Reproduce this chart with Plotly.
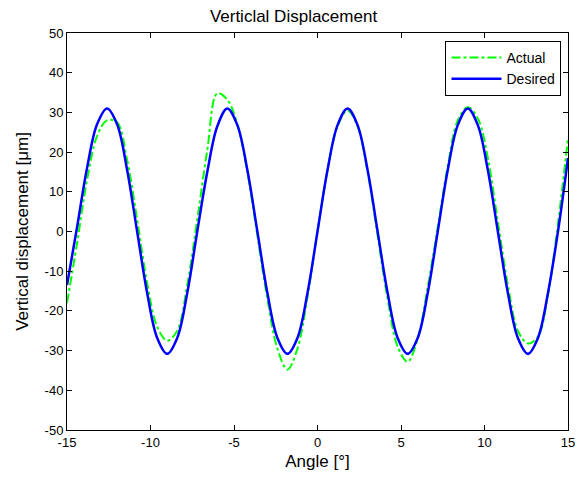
import plotly.graph_objects as go

angle = [-15.0, -14.4, -13.8, -13.2, -12.6, -12.0, -11.4, -10.8, -10.2, -9.6,
         -9.0, -8.4, -7.8, -7.2, -6.6, -6.0, -5.4, -4.8, -4.2, -3.6,
         -3.0, -2.4, -1.8, -1.2, -0.6, 0.0, 0.6, 1.2, 1.8, 2.4,
         3.0, 3.6, 4.2, 4.8, 5.4, 6.0, 6.6, 7.2, 7.8, 8.4,
         9.0, 9.6, 10.2, 10.8, 11.4, 12.0, 12.6, 13.2, 13.8, 14.4, 15.0]

desired = [-13.5, 1.0, 16.0, 27.0, 31.0, 27.0, 15.5, 0.0, -15.5, -26.8,
           -30.8, -26.8, -15.5, 0.0, 15.0, 26.5, 31.0, 26.8, 15.5, 0.0,
           -15.5, -26.8, -30.8, -26.8, -15.5, 0.0, 15.5, 26.8, 31.0, 26.8,
           15.5, 0.0, -15.5, -26.8, -30.8, -26.8, -15.5, 0.0, 15.5, 26.8,
           31.0, 26.8, 15.5, 0.0, -15.5, -26.8, -30.8, -26.8, -15.5, 0.0, 18.5]

actual = [-18.0, -3.0, 13.0, 24.0, 28.0, 27.5, 18.0, 3.0, -13.0, -24.0,
          -27.5, -25.0, -13.5, 3.0, 20.5, 34.8, 33.2, 27.0, 15.0, -1.0,
          -17.0, -29.5, -34.8, -29.5, -16.5, 0.0, 15.5, 26.5, 30.5, 26.5,
          15.0, -1.0, -17.0, -29.0, -32.8, -27.0, -14.0, 1.0, 16.5, 28.0,
          31.3, 28.5, 18.5, 2.5, -13.5, -25.0, -28.2, -26.5, -16.0, 2.0, 23.5]

x_ticks = [-15, -10, -5, 0, 5, 10, 15]
x_labels = ["-15", "-10", "-5", "0", "5", "10", "15"]
y_ticks = [-50, -40, -30, -20, -10, 0, 10, 20, 30, 40, 50]
y_labels = ["-50", "-40", "-30", "-20", "-10", "0", "10", "20", "30", "40", "50"]

font_family = "Liberation Sans, Arial, sans-serif"

fig = go.Figure()
fig.add_trace(go.Scatter(x=angle, y=actual, mode="lines", name="Actual",
                         line=dict(color="#00ff00", width=2, dash="dashdot", shape="spline")))
fig.add_trace(go.Scatter(x=angle, y=desired, mode="lines", name="Desired",
                         line=dict(color="#0000ff", width=2.5, shape="spline")))

axis_common = dict(showgrid=False, zeroline=False, showline=True, linecolor="black",
                   linewidth=1, mirror="ticks", ticks="inside", ticklen=5,
                   tickcolor="black", tickfont=dict(size=13, color="black", family=font_family))

fig.update_layout(
    width=587, height=479,
    margin=dict(l=67, r=17, t=33, b=49),
    paper_bgcolor="white", plot_bgcolor="white",
    font=dict(family=font_family, color="black"),
    title=dict(text="Verticlal Displacement", x=0.5, xanchor="center",
               y=1 - 16 / 479, yanchor="middle", font=dict(size=17, color="black", family=font_family)),
    xaxis=dict(range=[-15, 15], tickvals=x_ticks, ticktext=x_labels,
               title=dict(text="Angle [°]", font=dict(size=17), standoff=6), **axis_common),
    yaxis=dict(range=[-50, 50], tickvals=y_ticks, ticktext=y_labels,
               title=dict(text="Vertical displacement [μm]", font=dict(size=17), standoff=11), **axis_common),
    legend=dict(x=0.987, y=0.98, xanchor="right", yanchor="top",
                bgcolor="white", bordercolor="black", borderwidth=1,
                font=dict(size=14, color="black", family=font_family),
                itemwidth=50, tracegroupgap=0),
    showlegend=True,
)

fig.write_html("out.html")
